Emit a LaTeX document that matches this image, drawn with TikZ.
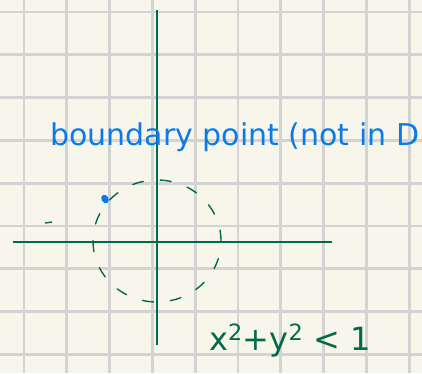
\documentclass[tikz,border=0pt]{standalone}
\usepackage{fontspec}
\usetikzlibrary{shapes.geometric}
\setmainfont{DejaVu Sans}
\definecolor{paper}{HTML}{F8F6EA}
\definecolor{gridc}{HTML}{D3D3D3}
\definecolor{axisg}{HTML}{006B4A}
\definecolor{penblue}{HTML}{0A7BE8}
\begin{document}
\begin{tikzpicture}[x=1pt,y=-1pt,
  gridline/.style={gridc,line width=2.8pt},
  axisline/.style={axisg,line width=2.6pt},
  dashcircle/.style={axisg,line width=1.4pt,dash pattern=on 11pt off 17pt,line cap=round},
  bluetext/.style={text=penblue,font=\fontsize{30}{31}\selectfont,inner sep=0pt,anchor=base west},
  greentext/.style={text=axisg,font=\fontsize{32}{34}\selectfont,inner sep=0pt,anchor=base west}]
\fill[paper] (0,0) rectangle (422,373);
\useasboundingbox (0,0) rectangle (422,373);
\foreach \i in {0,...,9} {
  \draw[gridline] ({24+42.8*\i},0) -- ({24+42.8*\i},373);
}
\foreach \j in {0,...,8} {
  \draw[gridline] (0,{12+42.8*\j}) -- (422,{12+42.8*\j});
}
\coordinate (ytop) at (157,10);
\coordinate (ybot) at (157,345);
\coordinate (xleft) at (13,242);
\coordinate (xright) at (332,242);
\draw[axisline] (ytop) -- (ybot);
\draw[axisline] (xleft) -- (xright);
\coordinate (c) at (157,241);
\draw[dashcircle] (c) circle[x radius=64pt, y radius=61pt];
\coordinate (s1) at (45,223);
\coordinate (s2) at (52,222);
\draw[axisg,line width=1.4pt] (s1) -- (s2);
\node[ellipse,fill=penblue,inner sep=0pt,minimum width=7pt,minimum height=9pt,rotate=30] (dot) at (105,199) {};
\node[bluetext] (label) at (50,145) {boundary point (not in D};
\node[greentext] (ineq) at (209,350) {x\textsuperscript{2}+y\textsuperscript{2} < 1};
\end{tikzpicture}
\end{document}
